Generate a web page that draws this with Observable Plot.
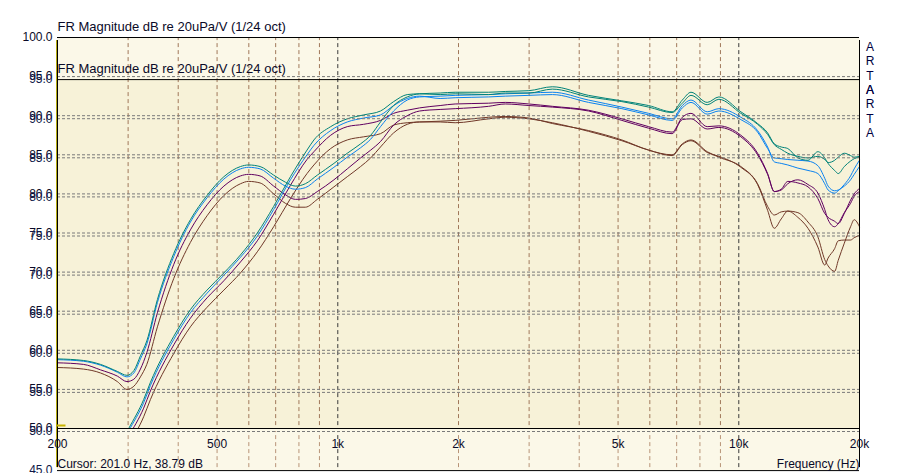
<!DOCTYPE html>
<html>
<head>
<meta charset="utf-8">
<script src="https://cdn.jsdelivr.net/npm/d3@7"></script>
<script src="https://cdn.jsdelivr.net/npm/@observablehq/plot@0.6"></script>
<style>
  html, body { margin: 0; padding: 0; background: #ffffff; }
  #chart svg { display: block; }
</style>
</head>
<body>
<div id="chart"></div>
<script>
// ---------- data ----------
const titleText = "FR Magnitude dB re 20uPa/V (1/24 oct)";
const cursorText = "Cursor: 201.0 Hz, 38.79 dB";
const xTitle = "Frequency (Hz)";
const brandText = "A\nR\nT\nA";

const xTicks = [200, 500, 1000, 2000, 5000, 10000, 20000];
const xTickLabels = ["200", "500", "1k", "2k", "5k", "10k", "20k"];
const yTicks1 = [100, 95, 90, 85, 80, 75, 70, 65, 60, 55, 50];
const yTicks2 = [95, 90, 85, 80, 75, 70, 65, 60, 55, 50, 45];
const gridMinorX = [300, 400, 500, 600, 700, 800, 900, 2000, 3000, 4000, 5000, 6000, 7000, 8000, 9000];
const gridMajorX = [1000, 10000];
const gridY1 = [95, 90, 85, 80, 75, 70, 65, 60, 55];
const gridY2 = [90, 85, 80, 75, 70, 65, 60, 55, 50];

// group A: curves with the low-frequency hump
const freqA = [200, 232, 256, 282, 298, 310, 322, 334, 355, 390, 429, 472, 520, 572, 599, 640, 692, 740, 784, 830, 889, 978, 1056, 1140, 1208, 1278, 1378, 1490, 1600,
  1800, 1962, 2378, 2616, 2996, 3428, 4220, 5110, 5960, 6820, 7230, 7600, 8340, 8920, 10120, 11140, 11800, 12260, 12760, 13250, 14040, 14880, 15750, 16380, 16700, 17340, 17700, 18330, 19000, 19400, 20000];
const tealA = [58.9, 58.7, 58.2, 57.3, 56.8, 57.4, 59.3, 61.2, 66.5, 72.4, 76.7, 79.8, 82.2, 83.5, 83.7, 83.5, 82.4, 81.5, 81.0, 81.3, 82.4, 83.9, 85.2, 86.4, 87.5, 89.2, 91.3, 92.4, 92.8,
  92.9, 93.0, 93.0, 93.1, 93.2, 93.7, 92.6, 91.9, 91.3, 90.5, 92.0, 93.0, 91.7, 92.4, 90.5, 89.0, 87.8, 86.4, 86.0, 85.8, 84.6, 84.3, 85.4, 84.6, 83.9, 83.0, 82.6, 83.5, 84.2, 84.5, 84.7];
const blueA = [58.8, 58.6, 58.1, 57.2, 56.6, 57.1, 58.9, 60.8, 66.1, 72.0, 76.4, 79.5, 81.9, 83.2, 83.4, 83.2, 82.0, 81.0, 80.6, 80.8, 81.9, 83.4, 84.7, 85.9, 87.0, 88.6, 90.6, 92.0, 92.4,
  92.5, 92.6, 92.7, 92.8, 92.9, 93.0, 92.0, 91.1, 90.3, 89.6, 91.3, 92.0, 90.5, 90.9, 89.8, 88.1, 86.0, 84.1, 83.9, 83.7, 83.3, 83.0, 82.6, 81.3, 80.5, 80.1, 80.4, 81.2, 82.3, 83.2, 84.3];
const purpleA = [58.4, 58.2, 57.5, 56.7, 56.0, 56.3, 57.6, 59.7, 64.8, 71.0, 75.4, 78.6, 81.0, 82.3, 82.5, 82.3, 81.0, 79.9, 79.3, 79.4, 80.3, 81.8, 83.2, 84.6, 85.6, 86.7, 88.8, 90.0, 90.6,
  90.8, 90.9, 91.2, 91.5, 91.3, 91.1, 90.6, 89.4, 88.4, 87.7, 89.5, 89.6, 88.3, 88.5, 87.3, 85.0, 82.5, 80.3, 80.6, 81.6, 81.4, 80.9, 79.4, 77.5, 77.0, 76.5, 76.2, 77.5, 79.2, 80.0, 80.7];
const brownA = [57.8, 57.6, 57.1, 56.0, 55.0, 55.4, 56.6, 58.2, 63.0, 69.2, 73.8, 77.2, 79.8, 81.3, 81.6, 81.4, 80.0, 78.8, 78.3, 78.3, 79.3, 80.9, 82.2, 83.5, 84.6, 86.0, 87.8, 88.9, 89.2,
  89.2, 89.1, 89.6, 89.8, 89.6, 89.1, 88.0, 86.8, 85.6, 84.9, 86.3, 86.8, 85.3, 84.8, 83.4, 81.2, 77.9, 75.6, 76.8, 77.8, 77.6, 76.4, 74.5, 71.6, 70.8, 70.1, 71.5, 73.7, 75.8, 76.7, 75.8];

// group B: curves rising steeply from the bottom
const freqB = [290, 301, 328, 341, 390, 429, 472, 520, 572, 630, 692, 762, 838, 872, 960, 1056, 1160, 1278, 1378, 1490, 1600,
  1800, 1962, 2378, 2616, 2996, 3428, 4220, 5110, 5960, 6820, 7230, 7600, 8340, 8920, 10120, 11140, 11800, 12260, 12760, 13250, 14040, 14880, 15750, 16380, 16700, 17340, 17700, 18330, 19000, 19400, 20000];
const tealB = [48.5, 50.0, 53.7, 55.9, 61.8, 65.2, 67.7, 69.9, 72.2, 75.0, 78.4, 82.2, 85.6, 86.9, 88.6, 89.6, 90.1, 90.6, 91.8, 92.7, 92.8,
  92.7, 92.8, 92.7, 92.9, 92.9, 93.4, 92.4, 91.8, 91.1, 90.4, 91.6, 92.6, 91.4, 92.1, 90.3, 88.9, 87.6, 86.3, 85.7, 85.2, 84.8, 84.6, 84.8, 84.4, 84.0, 84.3, 84.7, 85.2, 84.9, 84.7, 84.8];
const blueB = [48.2, 49.7, 53.3, 55.5, 61.4, 64.8, 67.3, 69.6, 71.9, 74.6, 78.0, 81.8, 85.0, 86.2, 88.1, 89.2, 89.7, 90.1, 91.3, 92.2, 92.5,
  92.2, 92.3, 92.4, 92.5, 92.6, 92.7, 91.7, 90.9, 90.1, 89.4, 91.0, 91.7, 90.2, 90.6, 89.5, 87.9, 85.8, 84.6, 84.5, 84.4, 84.3, 84.2, 83.6, 82.0, 81.0, 80.4, 80.5, 81.0, 81.8, 82.5, 83.5];
const purpleB = [47.5, 49.0, 52.6, 54.8, 60.7, 64.1, 66.7, 68.9, 71.3, 74.0, 77.4, 81.1, 84.4, 85.4, 87.5, 88.6, 88.9, 89.4, 90.3, 90.7, 91.0,
  91.3, 91.5, 91.6, 91.7, 91.5, 91.2, 90.7, 89.6, 88.6, 87.9, 89.8, 90.3, 88.6, 88.7, 87.5, 85.2, 82.6, 80.3, 80.5, 81.3, 81.8, 81.2, 80.1, 78.0, 76.7, 75.8, 76.2, 77.6, 78.8, 79.7, 80.3];
const brownB = [46.2, 47.8, 51.5, 53.7, 59.6, 63.0, 65.5, 67.7, 69.9, 72.6, 75.8, 79.4, 82.6, 83.7, 85.8, 86.9, 87.3, 87.7, 88.8, 89.1, 89.2,
  89.3, 89.4, 89.8, 89.9, 89.7, 89.0, 88.1, 86.9, 85.6, 85.0, 86.4, 86.9, 85.4, 84.7, 83.5, 81.3, 78.4, 77.3, 77.7, 77.8, 77.0, 75.6, 73.2, 70.9, 71.8, 73.0, 74.0, 74.1, 74.1, 74.4, 74.7];

// ---------- styles ----------
const LIGHT = "#fbf8e8";
const DARK = "#f7f2d8";
const C_TEAL = "#008278";
const C_BLUE = "#0a82f0";
const C_PURPLE = "#600060";
const C_BROWN = "#703828";
const TXT = "#0a0a28";
const FONT = "'Liberation Sans', Arial, sans-serif";

const series = [
  {f: freqA, v: brownA, c: C_BROWN}, {f: freqB, v: brownB, c: C_BROWN},
  {f: freqA, v: purpleA, c: C_PURPLE}, {f: freqB, v: purpleB, c: C_PURPLE},
  {f: freqA, v: blueA, c: C_BLUE}, {f: freqB, v: blueB, c: C_BLUE},
  {f: freqA, v: tealA, c: C_TEAL}, {f: freqB, v: tealB, c: C_TEAL}
];
const lineMarks = series.map(s =>
  Plot.line(s.f.map((f, i) => ({f, db: s.v[i]})), {x: "f", y: "db", stroke: s.c, strokeWidth: 1, curve: "monotone-x"})
);

const X0 = 200, X1 = 20000;

const chart = Plot.plot({
  width: 916,
  height: 473,
  marginLeft: 57,
  marginRight: 57,
  marginTop: 37,
  marginBottom: 5.9,
  x: {type: "log", domain: [X0, X1], axis: null},
  y: {domain: [45, 100], axis: null},
  style: {background: "#ffffff", fontFamily: FONT},
  marks: [
    Plot.frame({fill: LIGHT, stroke: null}),
    Plot.rect([0], {x1: X0, x2: X1, y1: 50, y2: 95, insetTop: 3, fill: DARK}),
    // vertical grid
    Plot.ruleX(gridMinorX, {y1: 45, y2: 100, stroke: "#a0785a", strokeDasharray: "4,3"}),
    Plot.ruleX(gridMajorX, {y1: 45, y2: 100, stroke: "#3a3a3a", strokeDasharray: "4,3"}),
    // horizontal grid (first chart)
    Plot.ruleY(gridY1, {stroke: "#7a7a7a", strokeDasharray: "3,2"}),
    ...lineMarks,
    // lower strip cover (below the first chart's frame)
    Plot.rect([0], {x1: X0, x2: X1, y1: 45, y2: 50, insetBottom: -3, fill: LIGHT}),
    Plot.ruleX(gridMinorX, {y1: 45, y2: 50, insetBottom: -3, stroke: "#b89478", strokeDasharray: "4,3"}),
    Plot.ruleX(gridMajorX, {y1: 45, y2: 50, insetBottom: -3, stroke: "#3a3a3a", strokeDasharray: "4,3"}),
    // horizontal grid (second chart, offset)
    Plot.ruleY(gridY2, {dy: 3, stroke: "#7a7a7a", strokeDasharray: "3,2"}),
    // frames
    Plot.ruleY([100, 50], {stroke: "#000"}),
    Plot.ruleY([95, 45], {dy: 3, stroke: "#000"}),
    Plot.ruleX([X0], {y1: 45, y2: 100, insetBottom: -3, stroke: "#000"}),
    Plot.ruleX([X0], {y1: 45, y2: 100, insetBottom: -3, dx: -1, stroke: "#b4aa10"}),
    Plot.ruleX([X1], {y1: 45, y2: 100, insetBottom: -3, stroke: "#000"}),
    Plot.ruleY([50], {x1: 200, x2: 210, dy: -3, stroke: "#c8b400", strokeWidth: 2}),
    // titles
    Plot.text([titleText], {frameAnchor: "top-left", textAnchor: "start", lineAnchor: "middle", dy: -10.2, fontSize: 13, fill: TXT}),
    Plot.text([titleText], {frameAnchor: "top-left", textAnchor: "start", lineAnchor: "middle", dy: 31.8, fontSize: 13, fill: TXT}),
    // y labels
    Plot.text(yTicks1, {y: d => d, text: d => d.toFixed(1), frameAnchor: "left", textAnchor: "end", lineAnchor: "middle", dx: -5, fontSize: 12, fill: TXT}),
    Plot.text(yTicks2, {y: d => d, text: d => d.toFixed(1), frameAnchor: "left", textAnchor: "end", lineAnchor: "middle", dx: -5, dy: 3, fontSize: 12, fill: "#101848"}),
    // x labels
    Plot.text(xTicks, {x: d => d, text: (d, i) => xTickLabels[i], frameAnchor: "bottom", lineAnchor: "middle", dy: -23.9, fontSize: 12, fill: TXT}),
    Plot.text([cursorText], {frameAnchor: "bottom-left", textAnchor: "start", lineAnchor: "middle", dy: -3.9, fontSize: 12, fill: TXT}),
    Plot.text([xTitle], {frameAnchor: "bottom-right", textAnchor: "end", lineAnchor: "middle", dy: -3.9, fontSize: 12, fill: TXT}),
    // brand
    Plot.text([brandText], {frameAnchor: "top-right", textAnchor: "middle", lineAnchor: "top", lineHeight: 1.2, dx: 10.5, dy: 3, fontSize: 12, fill: "#000040"}),
    Plot.text([brandText], {frameAnchor: "top-right", textAnchor: "middle", lineAnchor: "top", lineHeight: 1.2, dx: 10.5, dy: 46.3, fontSize: 12, fill: "#000040"})
  ]
});
document.getElementById("chart").appendChild(chart);
</script>
</body>
</html>
